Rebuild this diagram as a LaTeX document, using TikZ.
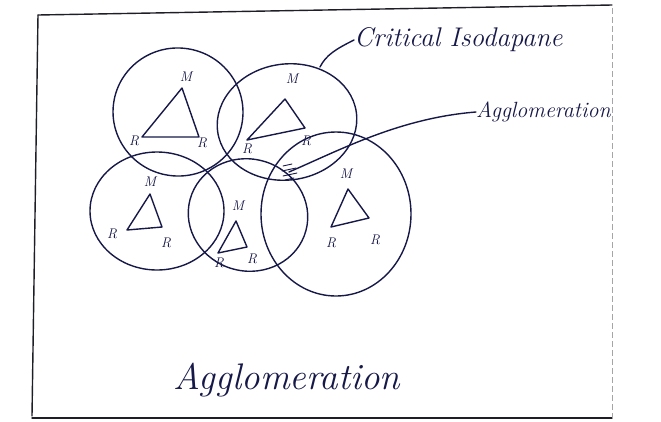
\documentclass[tikz,border=0pt]{standalone}
\usepackage{fontspec}
\definecolor{ink}{RGB}{22,24,72}
\definecolor{pencil}{RGB}{30,30,40}
\begin{document}
\begin{tikzpicture}[x=1pt,y=-1pt,
  ink/.style={draw=ink,line width=1.4pt,line cap=round,line join=round},
  framestroke/.style={draw=pencil,line width=1.4pt,line cap=round},
  vlabel/.style={text=ink,font=\fontsize{14}{14}\selectfont\itshape,inner sep=0pt},
  handtext/.style={text=ink,inner sep=0pt,font=\itshape}]
\useasboundingbox (0,0) rectangle (661,421);

% sheet border
\draw[framestroke] (38,15) -- (612,5);
\draw[framestroke] (38,15) -- (32,416);
\draw[framestroke] (32,418) -- (612,418);
\draw[draw=pencil!40,line width=0.8pt,dash pattern=on 6pt off 3pt] (612,8) -- (612,418);

% market-area circles
\draw[ink,rotate around={-8:(178,112)}] (178,112) ellipse [x radius=65, y radius=64];
\draw[ink,rotate around={8:(287,122)}] (287,122) ellipse [x radius=70, y radius=58];
\draw[ink] (157,211) ellipse [x radius=67, y radius=59];
\draw[ink,rotate around={-15:(248,215)}] (248,215) ellipse [x radius=60, y radius=56];
\draw[ink] (336,214) ellipse [x radius=75, y radius=82];

% location triangles (M = market, R = raw material)
\coordinate (m1) at (182,88);  \coordinate (a1) at (142,137); \coordinate (b1) at (199,137);
\coordinate (m2) at (285,99);  \coordinate (a2) at (247,140); \coordinate (b2) at (305,128);
\coordinate (m3) at (150,194); \coordinate (a3) at (127,230); \coordinate (b3) at (162,227);
\coordinate (m4) at (236,221); \coordinate (a4) at (218,253); \coordinate (b4) at (247,247);
\coordinate (m5) at (348,189); \coordinate (a5) at (331,227); \coordinate (b5) at (369,218);
\foreach \i in {1,...,5}
  \draw[ink] (m\i) -- (a\i) -- (b\i) -- cycle;

\node[vlabel] (lm1) at (186,77)  {M};
\node[vlabel] (la1) at (134,141) {R};
\node[vlabel] (lb1) at (202,143) {R};
\node[vlabel] (lm2) at (292,79)  {M};
\node[vlabel] (la2) at (247,149) {R};
\node[vlabel] (lb2) at (306,141) {R};
\node[vlabel] (lm3) at (150,182) {M};
\node[vlabel] (la3) at (112,234) {R};
\node[vlabel] (lb3) at (166,243) {R};
\node[vlabel] (lm4) at (238,206) {M};
\node[vlabel] (la4) at (219,263) {R};
\node[vlabel] (lb4) at (252,259) {R};
\node[vlabel] (lm5) at (346,174) {M};
\node[vlabel] (la5) at (331,243) {R};
\node[vlabel] (lb5) at (375,240) {R};

% shared zone where the areas overlap
\coordinate (agg) at (289,172);
\draw[ink,line width=0.9pt] (283,166) -- (292,164) (282,171) -- (296,168)
  (283,176) -- (297,173) (285,180) -- (294,178);

% annotations
\node[handtext,font=\fontsize{27}{27}\selectfont\itshape,anchor=west] (crit) at (354,40) {Critical Isodapane};
\coordinate (critfoot) at (320,67);
\draw[ink] (critfoot) .. controls (326,55) and (336,49) .. (crit.west);

\node[handtext,font=\fontsize{22}{22}\selectfont\itshape,anchor=west] (aggtxt) at (476,112) {Agglomeration};
\draw[ink] (agg) .. controls (340,150) and (400,118) .. (aggtxt.west);

\node[handtext,font=\fontsize{37}{37}\selectfont\itshape] (title) at (287,380) {Agglomeration};
\end{tikzpicture}
\end{document}
